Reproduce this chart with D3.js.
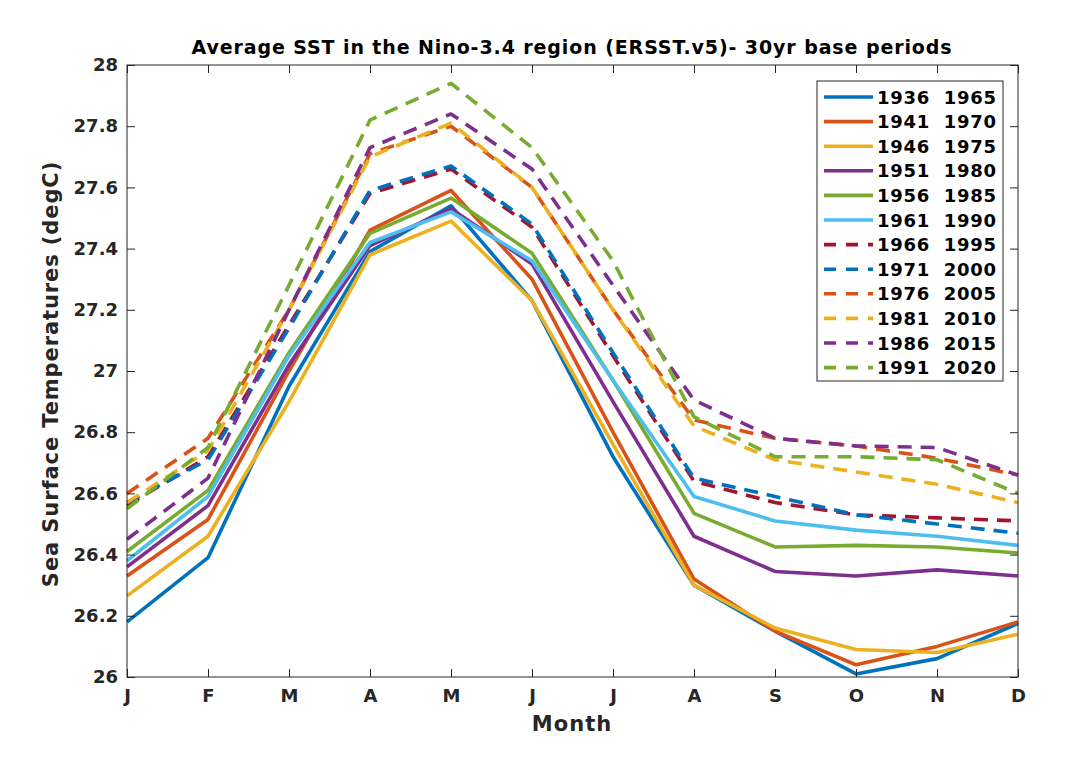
<!DOCTYPE html>
<html><head><meta charset="utf-8">
<script src="https://cdn.jsdelivr.net/npm/d3@7"></script>
<style>body{margin:0;background:#fff;} text{font-family:"DejaVu Sans",sans-serif;}</style>
</head><body>
<svg id="c" width="1080" height="761"></svg>
<script>
const months = ["J","F","M","A","M","J","J","A","S","O","N","D"];
const yTicks = [26,26.2,26.4,26.6,26.8,27,27.2,27.4,27.6,27.8,28];
const yTickLabels = ["26","26.2","26.4","26.6","26.8","27","27.2","27.4","27.6","27.8","28"];
const periods = ["1936  1965","1941  1970","1946  1975","1951  1980","1956  1985","1961  1990","1966  1995","1971  2000","1976  2005","1981  2010","1986  2015","1991  2020"];
const colors = ["#0072BD","#D95319","#EDB120","#7E2F8E","#77AC30","#4DBEEE","#A2142F","#0072BD","#D95319","#EDB120","#7E2F8E","#77AC30"];
const dashed = [false,false,false,false,false,false,true,true,true,true,true,true];
const s1936 = [26.18,26.39,26.95,27.39,27.54,27.23,26.72,26.30,26.15,26.01,26.06,26.175];
const s1941 = [26.33,26.515,27.00,27.46,27.59,27.30,26.80,26.32,26.15,26.04,26.10,26.18];
const s1946 = [26.265,26.46,26.90,27.38,27.49,27.23,26.76,26.30,26.16,26.09,26.08,26.14];
const s1951 = [26.36,26.56,27.02,27.41,27.53,27.35,26.90,26.46,26.345,26.33,26.35,26.33];
const s1956 = [26.41,26.61,27.06,27.45,27.565,27.385,26.97,26.535,26.425,26.43,26.425,26.405];
const s1961 = [26.38,26.59,27.05,27.42,27.52,27.36,26.97,26.59,26.51,26.48,26.46,26.43];
const s1966 = [26.56,26.72,27.15,27.58,27.66,27.47,27.05,26.64,26.57,26.53,26.52,26.51];
const s1971 = [26.57,26.71,27.14,27.59,27.67,27.48,27.06,26.65,26.59,26.53,26.50,26.47];
const s1976 = [26.60,26.78,27.20,27.71,27.80,27.60,27.20,26.84,26.78,26.755,26.715,26.66];
const s1981 = [26.57,26.74,27.20,27.70,27.81,27.60,27.20,26.82,26.71,26.67,26.63,26.57];
const s1986 = [26.45,26.65,27.20,27.73,27.84,27.66,27.28,26.905,26.78,26.755,26.75,26.66];
const s1991 = [26.55,26.75,27.28,27.82,27.94,27.73,27.36,26.85,26.72,26.72,26.71,26.60];
const series = [s1936,s1941,s1946,s1951,s1956,s1961,s1966,s1971,s1976,s1981,s1986,s1991];

const svg = d3.select("#c");
const L=127, R=1018, T=65, B=677;
const x = d3.scaleLinear().domain([0,11]).range([L,R]);
const y = d3.scaleLinear().domain([26,28]).range([B,T]);
const axisCol = "#262626";

// lines
const line = d3.line().x((d,i)=>x(i)).y(d=>y(d));
series.forEach((s,k)=>{
  svg.append("path").attr("d",line(s)).attr("fill","none")
    .attr("stroke",colors[k]).attr("stroke-width",3.6)
    .attr("stroke-linejoin","round")
    .attr("stroke-dasharray",dashed[k]?"14,9":null);
});

// axes box
svg.append("rect").attr("x",L).attr("y",T).attr("width",R-L).attr("height",B-T)
  .attr("fill","none").attr("stroke",axisCol).attr("stroke-width",1);

const tk=8;
const xAxB = d3.axisBottom(x).tickValues(d3.range(12)).tickFormat(i=>months[i]).tickSize(-tk).tickPadding(12);
const gB = svg.append("g").attr("transform",`translate(0,${B})`).call(xAxB);
const xAxT = d3.axisTop(x).tickValues(d3.range(12)).tickFormat("").tickSize(-tk);
const gT = svg.append("g").attr("transform",`translate(0,${T})`).call(xAxT);
const yAxL = d3.axisLeft(y).tickValues(yTicks).tickFormat((d,i)=>yTickLabels[i]).tickSize(-tk).tickPadding(9);
const gL = svg.append("g").attr("transform",`translate(${L},0)`).call(yAxL);
const yAxR = d3.axisRight(y).tickValues(yTicks).tickFormat("").tickSize(-tk);
const gR = svg.append("g").attr("transform",`translate(${R},0)`).call(yAxR);
[gB,gT,gL,gR].forEach(g=>{
  g.select(".domain").remove();
  g.selectAll("line").attr("stroke",axisCol);
  g.selectAll("text").attr("font-family","DejaVu Sans").attr("font-weight","bold")
   .attr("font-size",18).attr("fill",axisCol);
});

// titles
svg.append("text").attr("x",572).attr("y",54).attr("text-anchor","middle")
  .attr("font-weight","bold").attr("font-size",19).attr("letter-spacing",0.9).attr("fill","#000")
  .text("Average SST in the Nino-3.4 region (ERSST.v5)- 30yr base periods");
svg.append("text").attr("x",572).attr("y",731).attr("text-anchor","middle")
  .attr("font-weight","bold").attr("font-size",21).attr("letter-spacing",1).attr("fill",axisCol).text("Month");
svg.append("text").attr("transform","translate(58,374) rotate(-90)").attr("text-anchor","middle")
  .attr("font-weight","bold").attr("font-size",21).attr("letter-spacing",0.9).attr("fill",axisCol)
  .text("Sea Surface Temperatures (degC)");

// legend
const lg = svg.append("g");
lg.append("rect").attr("x",817).attr("y",81).attr("width",186).attr("height",300)
  .attr("fill","#fff").attr("stroke",axisCol).attr("stroke-width",1);
periods.forEach((p,k)=>{
  const yy = 97 + k*24.6;
  lg.append("line").attr("x1",824).attr("x2",873).attr("y1",yy).attr("y2",yy)
    .attr("stroke",colors[k]).attr("stroke-width",3.6)
    .attr("stroke-dasharray",dashed[k]?"12,10":null);
  lg.append("text").attr("x",877).attr("y",yy+6.5).attr("font-weight","bold")
    .attr("font-size",18).attr("letter-spacing",0.7).attr("fill","#000").attr("xml:space","preserve")
    .style("white-space","pre").text(p);
});
</script>
</body></html>
